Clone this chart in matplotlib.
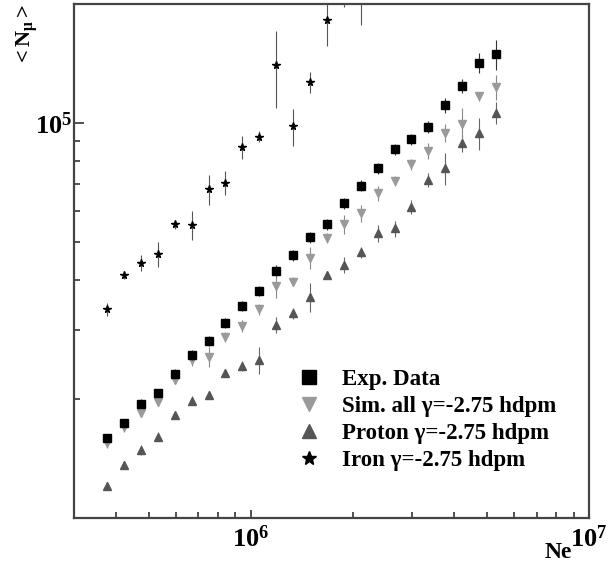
import numpy as np
import matplotlib
matplotlib.use('Agg')
import matplotlib.pyplot as plt
from matplotlib.lines import Line2D
from matplotlib.ticker import LogLocator, FuncFormatter, NullFormatter

plt.rcParams['font.family'] = ['Liberation Serif', 'DejaVu Serif']
plt.rcParams['font.weight'] = 'bold'
plt.rcParams['mathtext.fontset'] = 'custom'
plt.rcParams['mathtext.rm'] = 'Liberation Serif:bold'
plt.rcParams['mathtext.bf'] = 'Liberation Serif:bold'
plt.rcParams['mathtext.it'] = 'Liberation Serif:bold:italic'

# log10(Ne) bin centres
log_ne = [5.575, 5.625, 5.675, 5.725, 5.775, 5.825, 5.875, 5.925, 5.975, 6.025,
          6.075, 6.125, 6.175, 6.225, 6.275, 6.325, 6.375, 6.425, 6.475, 6.525,
          6.575, 6.625, 6.675, 6.725]

exp_nmu = [15920, 17420, 19450, 20750, 23170, 25880, 28120, 31120, 34430, 37500,
           42270, 46240, 51290, 55460, 62660, 69340, 76740, 85700, 90990, 97720,
           110900, 124200, 141900, 149300]
exp_err = [300, 400, 500, 500, 600, 700, 800, 900, 1000, 1100,
           1300, 1400, 1600, 1800, 2000, 2200, 2500, 2800, 3000, 3300,
           5000, 5000, 8000, 13000]

sim_nmu = [15520, 17020, 18490, 19680, 22340, 25120, 25590, 28770, 30620, 33730,
           38640, 39630, 45600, 51050, 55460, 59020, 66370, 71290, 78700, 85110,
           94410, 99310, 116700, 123000]
sim_err = [500, 500, 500, 500, 500, 800, 1500, 800, 1000, 1000,
           2500, 1000, 3000, 1500, 3000, 3000, 3000, 2000, 2500, 4000,
           5000, 9500, 3000, 9000]

pro_nmu = [12050, 13610, 14860, 16070, 18240, 19820, 20460, 23330, 24270, 25120,
           30830, 32960, 36310, 41210, 43750, 47100, 52600, 54080, 61380, 71780,
           76740, 88920, 94190, 106200]
pro_err = [300, 300, 400, 400, 400, 500, 500, 500, 700, 2000,
           1500, 1000, 3000, 1000, 2000, 1500, 2500, 2500, 2500, 3000,
           7000, 4500, 9000, 7000]

# iron only covers the first 16 bins, last two above the frame
fe_nmu = [33730, 41210, 44260, 46560, 55340, 55210, 67920, 70630, 86700, 92260,
          140300, 97950, 126800, 182400, 225000, 210000]
fe_err = [1300, 1000, 2000, 3400, 1500, 4700, 6000, 5000, 5700, 3000,
          31000, 10500, 7500, 26000, 28000, 33000]

ne = 10 ** np.array(log_ne)

fig = plt.figure(figsize=(6.11, 5.65), dpi=100)
ax = fig.add_axes([0.1211, 0.0832, 0.8429, 0.9097])
ax.set_xscale('log')
ax.set_yscale('log')

ax.errorbar(ne[:len(fe_nmu)], fe_nmu, yerr=fe_err, fmt='*', color='black',
            ms=5.5, elinewidth=0.8, ecolor='#555555', capsize=0, zorder=3)
ax.errorbar(ne, pro_nmu, yerr=pro_err, fmt='^', color='#555555',
            ms=5.5, elinewidth=0.8, ecolor='#666666', capsize=0, zorder=3)
ax.errorbar(ne, sim_nmu, yerr=sim_err, fmt='v', color='#9a9a9a',
            ms=5.5, elinewidth=0.8, ecolor='#888888', capsize=0, zorder=3)
ax.errorbar(ne, exp_nmu, yerr=exp_err, fmt='s', color='black',
            ms=5.8, elinewidth=0.8, ecolor='#333333', capsize=0, zorder=4)

ax.set_xlim(3e5, 1e7)
ax.set_ylim(1e4, 2e5)

def dec_label(v, pos):
    e = int(round(np.log10(v)))
    if e in (5, 6, 7):
        return r'$\mathbf{10^{%d}}$' % e
    return ''

ax.xaxis.set_major_locator(LogLocator(base=10))
ax.yaxis.set_major_locator(LogLocator(base=10))
ax.xaxis.set_minor_locator(LogLocator(base=10, subs=np.arange(2, 10)))
ax.yaxis.set_minor_locator(LogLocator(base=10, subs=np.arange(2, 10)))
ax.xaxis.set_major_formatter(FuncFormatter(dec_label))
ax.yaxis.set_major_formatter(FuncFormatter(dec_label))
ax.xaxis.set_minor_formatter(NullFormatter())
ax.yaxis.set_minor_formatter(NullFormatter())

ax.tick_params(which='both', direction='in', top=False, right=False,
               colors='#333333', labelcolor='black', width=1.2)
ax.tick_params(axis='x', which='major', length=6, pad=5, labelsize=19)
ax.tick_params(axis='y', which='major', length=7, pad=1.5, labelsize=19)
ax.tick_params(which='minor', length=4)
for sp in ax.spines.values():
    sp.set_linewidth(1.6)
    sp.set_color('#444444')

ax.text(0.94, -0.068, 'Ne', transform=ax.transAxes, ha='center', va='center',
        fontsize=17, fontweight='bold')
fig.text(0.044, 0.993, r'$\mathbf{{<}N_{\mu}{>}}$', rotation=90,
         ha='center', va='top', fontsize=16)

handles = [
    Line2D([], [], ls='none', marker='s', color='black', ms=10.5),
    Line2D([], [], ls='none', marker='v', color='#9a9a9a', ms=10.5),
    Line2D([], [], ls='none', marker='^', color='#555555', ms=10.5),
    Line2D([], [], ls='none', marker='*', color='black', ms=10),
]
labels = ['Exp. Data', 'Sim. all \u03b3=-2.75 hdpm',
          'Proton \u03b3=-2.75 hdpm', 'Iron \u03b3=-2.75 hdpm']
ax.legend(handles, labels, loc='upper left', bbox_to_anchor=(0.435, 0.289),
          frameon=False, handlelength=1.0, handletextpad=0.9,
          borderpad=0, borderaxespad=0, labelspacing=0.25,
          prop={'family': 'Liberation Serif', 'weight': 'bold', 'size': 16.5})

fig.savefig('out.png', dpi=100)
